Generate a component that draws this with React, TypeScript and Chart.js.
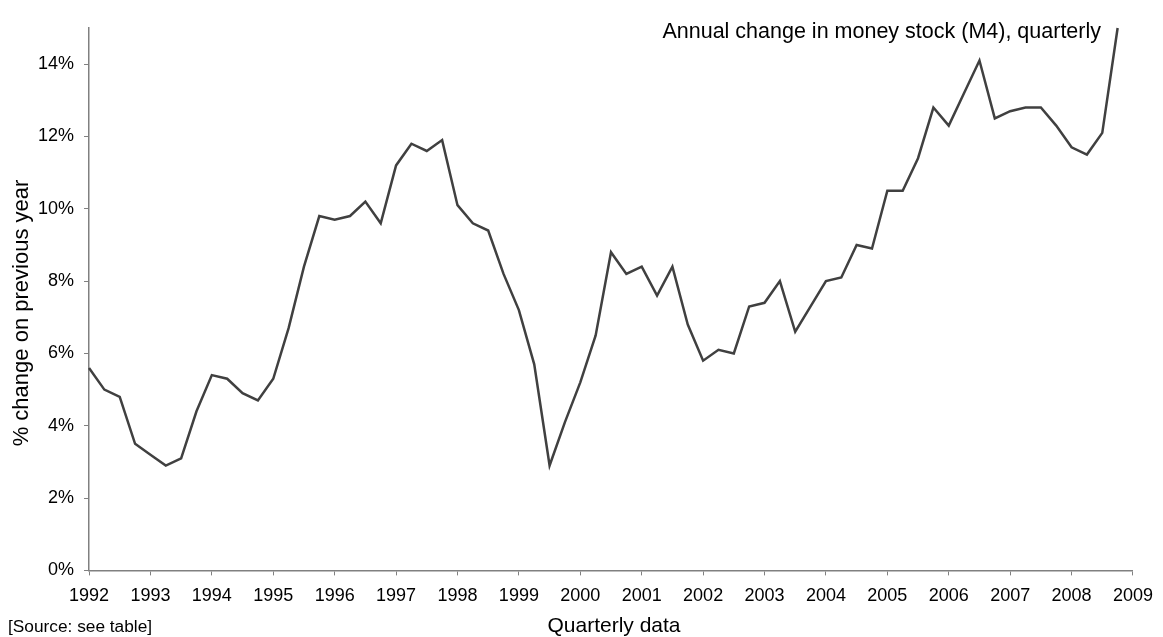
import React, { useEffect, useRef } from "react";
import { Chart, registerables } from "chart.js";

Chart.register(...registerables);

const quarterLabels: string[] = [
  "1992 Q1", "1992 Q2", "1992 Q3", "1992 Q4",
  "1993 Q1", "1993 Q2", "1993 Q3", "1993 Q4",
  "1994 Q1", "1994 Q2", "1994 Q3", "1994 Q4",
  "1995 Q1", "1995 Q2", "1995 Q3", "1995 Q4",
  "1996 Q1", "1996 Q2", "1996 Q3", "1996 Q4",
  "1997 Q1", "1997 Q2", "1997 Q3", "1997 Q4",
  "1998 Q1", "1998 Q2", "1998 Q3", "1998 Q4",
  "1999 Q1", "1999 Q2", "1999 Q3", "1999 Q4",
  "2000 Q1", "2000 Q2", "2000 Q3", "2000 Q4",
  "2001 Q1", "2001 Q2", "2001 Q3", "2001 Q4",
  "2002 Q1", "2002 Q2", "2002 Q3", "2002 Q4",
  "2003 Q1", "2003 Q2", "2003 Q3", "2003 Q4",
  "2004 Q1", "2004 Q2", "2004 Q3", "2004 Q4",
  "2005 Q1", "2005 Q2", "2005 Q3", "2005 Q4",
  "2006 Q1", "2006 Q2", "2006 Q3", "2006 Q4",
  "2007 Q1", "2007 Q2", "2007 Q3", "2007 Q4",
  "2008 Q1", "2008 Q2", "2008 Q3", "2008 Q4",
];

const m4Change: number[] = [
  5.6, 5.0, 4.8, 3.5,
  3.2, 2.9, 3.1, 4.4,
  5.4, 5.3, 4.9, 4.7,
  5.3, 6.7, 8.4, 9.8,
  9.7, 9.8, 10.2, 9.6,
  11.2, 11.8, 11.6, 11.9,
  10.1, 9.6, 9.4, 8.2,
  7.2, 5.7, 2.9, 4.1,
  5.2, 6.5, 8.8, 8.2,
  8.4, 7.6, 8.4, 6.8,
  5.8, 6.1, 6.0, 7.3,
  7.4, 8.0, 6.6, 7.3,
  8.0, 8.1, 9.0, 8.9,
  10.5, 10.5, 11.4, 12.8,
  12.3, 13.2, 14.1, 12.5,
  12.7, 12.8, 12.8, 12.3,
  11.7, 11.5, 12.1, 15.0,
];

const yearRange: number[] = [1992, 2009];
const yRange: number[] = [0, 15];
const yTickValues: number[] = [0, 2, 4, 6, 8, 10, 12, 14];

const chartTitle = "Annual change in money stock (M4), quarterly";
const sourceNote = "[Source: see table]";
const xTitle = "Quarterly data";
const yTitle = "% change on previous year";

const FONT = "'Liberation Sans', Arial, sans-serif";

function quarterToX(label: string): number {
  const [y, q] = label.split(" Q");
  return Number(y) + (Number(q) - 1) / 4;
}

const textPlugin = {
  id: "extraText",
  afterDraw(chart: any) {
    const ctx = chart.ctx;
    const area = chart.chartArea;
    ctx.save();
    ctx.fillStyle = "#000";
    ctx.textBaseline = "alphabetic";
    // main title
    ctx.font = `21.5px ${FONT}`;
    ctx.textAlign = "right";
    ctx.fillText(chartTitle, 1101, 38);
    // source note
    ctx.textAlign = "left";
    ctx.font = `17.3px ${FONT}`;
    ctx.fillText(sourceNote, 8, 632);
    // x axis title
    ctx.textAlign = "center";
    ctx.font = `21px ${FONT}`;
    ctx.fillText(xTitle, (area.left + area.right) / 2 + 3, 632);
    // y axis title
    ctx.translate(28, 313);
    ctx.rotate(-Math.PI / 2);
    ctx.font = `22px ${FONT}`;
    ctx.fillText(yTitle, 0, 0);
    ctx.restore();
  },
};

export default function App() {
  const ref = useRef<HTMLCanvasElement | null>(null);
  useEffect(() => {
    if (!ref.current) return;
    const data = quarterLabels.map((l, i) => ({ x: quarterToX(l), y: m4Change[i] }));
    const chart = new Chart(ref.current, {
      type: "line",
      data: {
        datasets: [
          {
            data,
            borderColor: "#404040",
            borderWidth: 2.5,
            pointRadius: 0,
            tension: 0,
            fill: false,
            clip: false as any,
          },
        ],
      },
      options: {
        responsive: false,
        animation: false,
        maintainAspectRatio: false,
        layout: { padding: { left: 28, right: 25, top: 28, bottom: 20 } },
        plugins: { legend: { display: false }, tooltip: { enabled: false } },
        scales: {
          x: {
            type: "linear",
            min: yearRange[0],
            max: yearRange[1],
            grid: { drawOnChartArea: false, drawTicks: true, tickLength: 5, color: "#808080", lineWidth: 1 },
            border: { color: "#808080", width: 1.5 },
            ticks: {
              stepSize: 1,
              color: "#000",
              font: { family: FONT, size: 18 },
              padding: 10,
              maxRotation: 0,
              autoSkip: false,
              callback: (v: any) => String(v),
            },
          },
          y: {
            min: yRange[0],
            max: yRange[1],
            afterBuildTicks: (axis: any) => {
              axis.ticks = yTickValues.map((v) => ({ value: v }));
            },
            grid: { drawOnChartArea: false, drawTicks: true, tickLength: 5, color: "#808080", lineWidth: 1 },
            border: { color: "#808080", width: 1.5 },
            ticks: {
              color: "#000",
              font: { family: FONT, size: 18 },
              padding: 10,
              callback: (v: any) => `${v}%`,
            },
          },
        },
      },
      plugins: [textPlugin],
    });
    return () => chart.destroy();
  }, []);
  return (
    <div style={{ position: "fixed", left: 0, top: 0, width: 1163, height: 637, background: "#fff" }}>
      <canvas ref={ref} width={1163} height={637} />
    </div>
  );
}
